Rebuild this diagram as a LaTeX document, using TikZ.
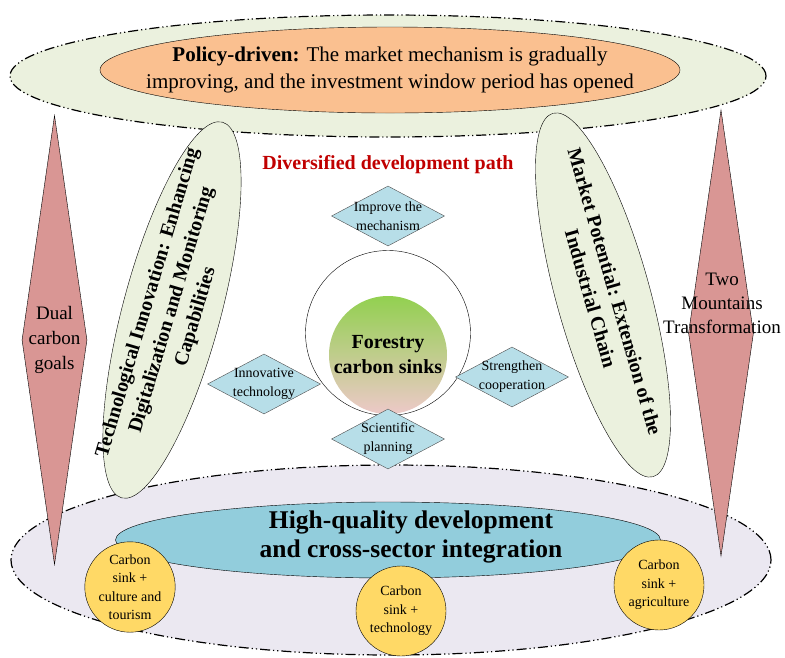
\documentclass[tikz,border=0pt]{standalone}
\usepackage{fontspec}
\setmainfont{Liberation Serif}
\usetikzlibrary{shapes.geometric}

\definecolor{leaf}{HTML}{EBF1DE}
\definecolor{peach}{HTML}{FAC090}
\definecolor{rose}{HTML}{D99694}
\definecolor{sky}{HTML}{B7DEE8}
\definecolor{lilac}{HTML}{EBE8F1}
\definecolor{lagoon}{HTML}{92CDDC}
\definecolor{gold}{HTML}{FFD966}
\definecolor{sprout}{HTML}{92D050}
\definecolor{sand}{HTML}{C9B48F}
\definecolor{blush}{HTML}{EDC9C8}
\definecolor{crimson}{HTML}{C00000}

\begin{document}
\begin{tikzpicture}[x=1pt, y=-1pt,
  band/.style={ellipse, draw, line width=1.2pt, inner sep=0,
    dash pattern=on 10pt off 3pt on 1.2pt off 3pt on 1.2pt off 3pt},
  pill/.style={ellipse, draw, inner sep=0},
  gem/.style={diamond, draw=black!70, fill=sky, inner sep=0,
    minimum width=113pt, minimum height=60pt},
  goal/.style={diamond, draw, fill=rose, inner sep=0, minimum width=65pt},
  dot/.style={circle, draw, fill=gold, minimum size=90pt, inner sep=0,
    align=center, font=\fontsize{14}{18.5}\selectfont},
  lbl/.style={align=center, font=\fontsize{14}{19}\selectfont},
  big/.style={align=center, font=\fontsize{19}{25}\selectfont},
  slant/.style={align=center, font=\bfseries\fontsize{20}{25}\selectfont}
]
\useasboundingbox (0,0) rectangle (785,657);

% upper band
\node[band, fill=leaf, minimum width=756pt, minimum height=122pt] (policyband) at (388,76) {};
\node[pill, fill=peach, minimum width=580pt, minimum height=86pt] (policy) at (390,70) {};
\node[align=center, font=\fontsize{21}{27}\selectfont] (policytext) at (policy)
  {\textbf{Policy-driven:} The market mechanism is gradually\\
   improving, and the investment window period has opened};

% lower band
\node[band, fill=lilac, minimum width=760pt, minimum height=190pt] (fuseband) at (391,560) {};
\node[pill, fill=lagoon, minimum width=545pt, minimum height=76pt] (fuse) at (388,540) {};
\node[align=center, font=\bfseries\fontsize{25.5}{29}\selectfont] (fusetext) at (411,537)
  {High-quality development\\and cross-sector integration};
\node[dot] (tour) at (130,587) {Carbon\\sink +\\culture and\\tourism};
\node[dot] (tech) at (401,611) {Carbon\\sink +\\technology};
\node[dot] (agri) at (659,585) {Carbon\\sink +\\agriculture};

% side goals
\node[goal, minimum height=449pt] (dual) at (54.5,340) {};
\node[big] (dualtext) at (dual) {Dual\\carbon\\goals};
\node[goal, minimum height=446pt] (mount) at (721,333) {};
\node[big, font=\fontsize{19}{24}\selectfont] (mounttext) at (722,303) {Two\\Mountains\\Transformation};

% tilted pillars
\node[pill, fill=leaf, minimum width=389pt, minimum height=98pt, rotate=75] (innov) at (172,310) {};
\node[slant, rotate=73.5] (innovtext) at (innov)
  {Technological Innovation: Enhancing\\Digitalization and Monitoring\\Capabilities};
\node[pill, fill=leaf, minimum width=377pt, minimum height=94pt, rotate=-74.6] (market) at (603,295) {};
\node[slant, rotate=-74] (markettext) at (market)
  {Market Potential: Extension of the\\Industrial Chain};

\node[text=crimson, font=\bfseries\fontsize{20}{24}\selectfont] (path) at (388,165)
  {Diversified development path};

% centre
\node[circle, draw, fill=white, minimum size=165pt] (ring) at (388,333) {};
\node[circle, minimum size=118pt, inner sep=0, top color=sprout, middle color=sand,
  bottom color=blush, align=center, font=\bfseries\fontsize{20}{25}\selectfont] (core) at (388,355)
  {Forestry\\carbon sinks};

\node[gem] (mech) at (388,216) {};
\node[lbl] at (mech) {Improve the\\mechanism};
\node[gem] (innotech) at (264,384) {};
\node[lbl] at (innotech) {Innovative\\technology};
\node[gem] (coop) at (512,377) {};
\node[lbl] at (coop) {Strengthen\\cooperation};
\node[gem] (plan) at (388,439) {};
\node[lbl] at (plan) {Scientific\\planning};
\end{tikzpicture}
\end{document}
